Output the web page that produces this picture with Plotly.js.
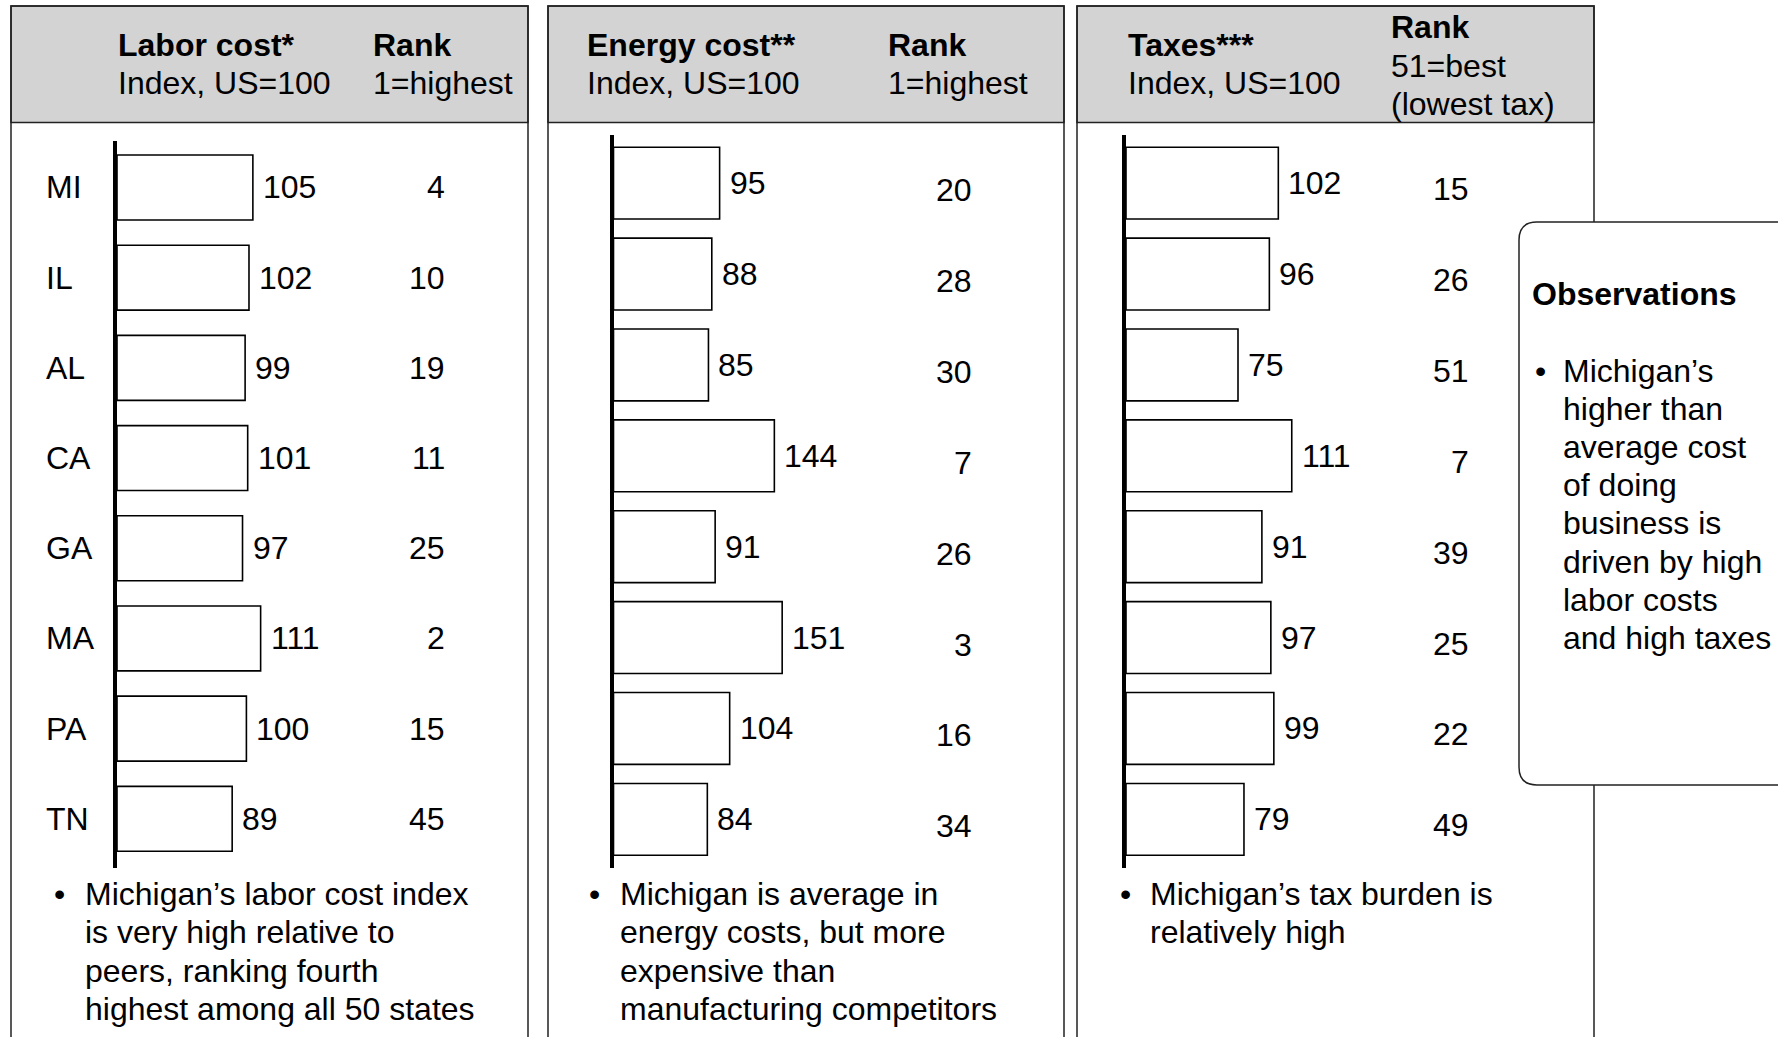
<!DOCTYPE html>
<html>
<head>
<meta charset="utf-8">
<script src="https://cdn.plot.ly/plotly-3.0.1.min.js"></script>
<style>
  html, body { margin: 0; padding: 0; background: #fff; }
  #chart { width: 1778px; height: 1037px; }
</style>
</head>
<body>
<div id="chart"></div>
<script>
// data
var states = ['MI', 'IL', 'AL', 'CA', 'GA', 'MA', 'PA', 'TN'];
var laborIndex = [105, 102, 99, 101, 97, 111, 100, 89];
var laborRank = [4, 10, 19, 11, 25, 2, 15, 45];
var energyIndex = [95, 88, 85, 144, 91, 151, 104, 84];
var energyRank = [20, 28, 30, 7, 26, 3, 16, 34];
var taxIndex = [102, 96, 75, 111, 91, 97, 99, 79];
var taxRank = [15, 26, 51, 7, 39, 25, 22, 49];

var headerTitles = ['Labor cost*', 'Energy cost**', 'Taxes***'];
var headerSubs = ['Index, US=100', 'Index, US=100', 'Index, US=100'];
var rankHeaders = [['1=highest'], ['1=highest'], ['51=best', '(lowest tax)']];

var notes = [
    ['Michigan\u2019s labor cost index', 'is very high relative to', 'peers, ranking fourth', 'highest among all 50 states'],
    ['Michigan is average in', 'energy costs, but more', 'expensive than', 'manufacturing competitors'],
    ['Michigan\u2019s tax burden is', 'relatively high']
];
var obsTitle = 'Observations';
var obsLines = ['Michigan\u2019s', 'higher than', 'average cost', 'of doing', 'business is',
    'driven by high', 'labor costs', 'and high taxes'];

var W = 1778, H = 1037;
var FONT = 'Liberation Sans, Arial, Helvetica, sans-serif';
var FS = 32;

function px(x) { return x / W; }
function py(y) { return 1 - y / H; }

// panel geometry (pixels)
var panels = [
    { left: 11, right: 528, axisX: 117, axisEnd: 375.8, xmax: 200, top: 140.6, bottom: 867.5,
      rng: [7.54, -0.52], barW: 0.72, rankX: 447, titleX: 118, rankHX: 373, bulletX: 54, noteX: 85,
      idx: laborIndex, rank: laborRank, rankShift: 0 },
    { left: 548, right: 1064, axisX: 613.5, axisEnd: 836.9, xmax: 200, top: 135, bottom: 867.5,
      rng: [7.53, -0.53], barW: 0.79, rankX: 974, titleX: 587, rankHX: 888, bulletX: 589, noteX: 620,
      idx: energyIndex, rank: energyRank, rankShift: -7 },
    { left: 1077, right: 1594, axisX: 1126, axisEnd: 1350, xmax: 150, top: 135, bottom: 867.5,
      rng: [7.53, -0.53], barW: 0.79, rankX: 1471, titleX: 1128, rankHX: 1391, bulletX: 1120, noteX: 1150,
      idx: taxIndex, rank: taxRank, rankShift: -6 }
];

var data = [];
var layout = {
    width: W, height: H,
    margin: { l: 0, r: 0, t: 0, b: 0, pad: 0 },
    paper_bgcolor: '#fff',
    plot_bgcolor: 'rgba(0,0,0,0)',
    showlegend: false,
    font: { family: FONT, size: FS, color: '#000' },
    shapes: [],
    annotations: []
};

// free text placed in page pixels (the -2 eats the annotation padding)
function txt(x, y, text, opts) {
    var a = {
        xref: 'paper', yref: 'paper', x: px(x - 2), y: py(y), text: text,
        showarrow: false, xanchor: 'left', yanchor: 'middle',
        font: { family: FONT, size: FS, color: '#000' }
    };
    for (var k in opts) a[k] = opts[k];
    return a;
}

panels.forEach(function (p, i) {
    var n = i === 0 ? '' : String(i + 1);
    var xa = 'x' + n, ya = 'y' + n;

    layout['xaxis' + n] = {
        domain: [px(p.axisX), px(p.axisEnd)], range: [0, p.xmax], anchor: ya,
        showgrid: false, zeroline: false, showticklabels: false, showline: false, ticks: '', fixedrange: true
    };
    layout['yaxis' + n] = {
        domain: [py(p.bottom), py(p.top)], range: p.rng, anchor: xa, type: 'category',
        showgrid: false, zeroline: false, showticklabels: false, ticks: '',
        showline: true, linewidth: 4, linecolor: '#000', fixedrange: true
    };

    data.push({
        type: 'bar', orientation: 'h', x: p.idx, y: states, xaxis: xa, yaxis: ya,
        width: p.barW,
        marker: { color: '#fff', line: { color: '#000', width: 1.6 } },
        hoverinfo: 'x+y'
    });

    // panel frame and header
    layout.shapes.push({
        type: 'rect', xref: 'paper', yref: 'paper', layer: 'above',
        x0: px(p.left), x1: px(p.right), y0: py(6), y1: py(122.5),
        fillcolor: '#d3d3d3', line: { color: '#222', width: 1.5 }
    });
    layout.shapes.push({
        type: 'rect', xref: 'paper', yref: 'paper', layer: 'above',
        x0: px(p.left), x1: px(p.right), y0: py(1060), y1: py(6),
        fillcolor: 'rgba(0,0,0,0)', line: { color: '#222', width: 1.5 }
    });

    // header texts
    layout.annotations.push(txt(p.titleX, 45.3, '<b>' + headerTitles[i] + '</b>'));
    layout.annotations.push(txt(p.titleX, 82.7, headerSubs[i]));
    if (rankHeaders[i].length === 1) {
        layout.annotations.push(txt(p.rankHX, 45.3, '<b>Rank</b>'));
        layout.annotations.push(txt(p.rankHX, 82.7, rankHeaders[i][0]));
    } else {
        layout.annotations.push(txt(p.rankHX, 27.2, '<b>Rank</b>'));
        layout.annotations.push(txt(p.rankHX, 65.7, rankHeaders[i][0]));
        layout.annotations.push(txt(p.rankHX, 104.3, rankHeaders[i][1]));
    }

    states.forEach(function (s, j) {
        // value labels
        layout.annotations.push({
            xref: xa, yref: ya, x: p.idx[j], y: s, text: String(p.idx[j]),
            showarrow: false, xanchor: 'left', yanchor: 'middle', xshift: 8,
            font: { family: FONT, size: FS, color: '#000' }
        });
        // rank labels
        layout.annotations.push({
            xref: 'paper', yref: ya, x: px(p.rankX), y: s, text: String(p.rank[j]),
            showarrow: false, xanchor: 'right', yanchor: 'middle', yshift: p.rankShift,
            font: { family: FONT, size: FS, color: '#000' }
        });
        // state labels (first panel only)
        if (i === 0) {
            layout.annotations.push({
                xref: 'paper', yref: ya, x: px(44), y: s, text: s,
                showarrow: false, xanchor: 'left', yanchor: 'middle',
                font: { family: FONT, size: FS, color: '#000' }
            });
        }
    });

    // bullet notes
    layout.annotations.push(txt(p.bulletX, 894.2, '\u2022'));
    notes[i].forEach(function (line, j) {
        layout.annotations.push(txt(p.noteX, 894.2 + j * 38.2, line));
    });
});

// observations box (rounded, runs off the right edge)
var bx0 = 1519, bx1 = 1800, by0 = 222, by1 = 785, r = 18;
layout.shapes.push({
    type: 'path', xref: 'paper', yref: 'paper', layer: 'above',
    path: 'M' + px(bx0 + r) + ',' + py(by0) +
        ' L' + px(bx1) + ',' + py(by0) +
        ' L' + px(bx1) + ',' + py(by1) +
        ' L' + px(bx0 + r) + ',' + py(by1) +
        ' Q' + px(bx0) + ',' + py(by1) + ' ' + px(bx0) + ',' + py(by1 - r) +
        ' L' + px(bx0) + ',' + py(by0 + r) +
        ' Q' + px(bx0) + ',' + py(by0) + ' ' + px(bx0 + r) + ',' + py(by0) + ' Z',
    fillcolor: '#fff', line: { color: '#222', width: 1.5 }
});
layout.annotations.push(txt(1532, 293.5, '<b>' + obsTitle + '</b>'));
layout.annotations.push(txt(1535, 370.6, '\u2022'));
obsLines.forEach(function (line, j) {
    layout.annotations.push(txt(1563, 370.6 + j * 38.2, line));
});

Plotly.newPlot('chart', data, layout, { staticPlot: true, displayModeBar: false });
</script>
</body>
</html>
